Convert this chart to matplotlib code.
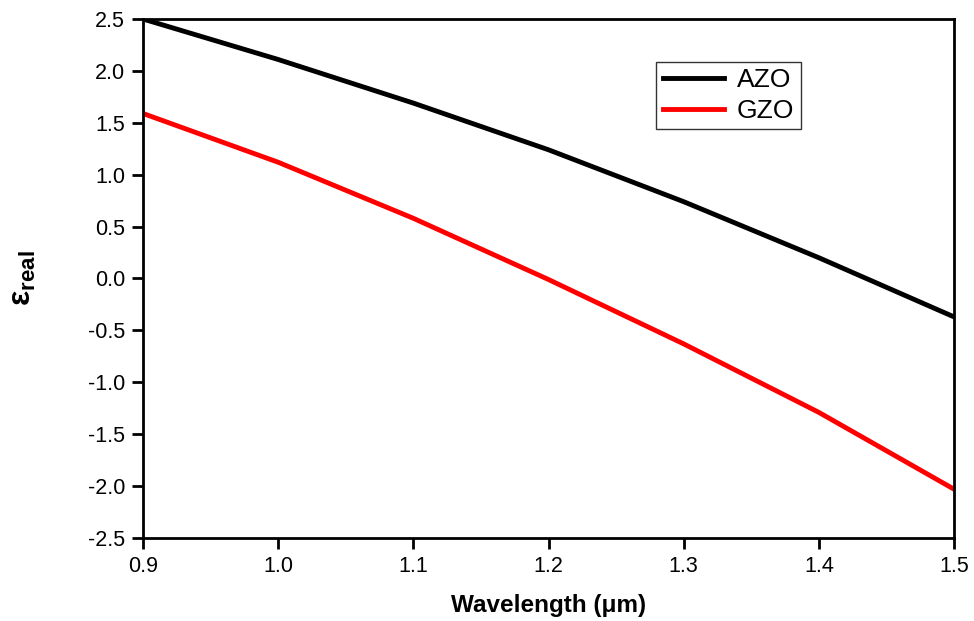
import matplotlib.pyplot as plt

plt.rcParams['font.family'] = ['Liberation Sans', 'DejaVu Sans']
plt.rcParams['mathtext.fontset'] = 'custom'
plt.rcParams['mathtext.rm'] = 'Liberation Sans'
plt.rcParams['mathtext.bf'] = 'Liberation Sans:bold'

# ── Data ──
wavelength = [0.9, 1.0, 1.1, 1.2, 1.3, 1.4, 1.5]
eps_azo = [2.50, 2.11, 1.69, 1.24, 0.74, 0.20, -0.37]
eps_gzo = [1.59, 1.12, 0.58, -0.01, -0.63, -1.29, -2.03]

fig = plt.figure(figsize=(9.74, 6.21), dpi=100)
ax = fig.add_axes([0.1468, 0.1337, 0.8327, 0.8357])

ax.plot(wavelength, eps_azo, color='black', lw=3.5, label='AZO')
ax.plot(wavelength, eps_gzo, color='red', lw=3.5, label='GZO')

ax.set_xlim(0.9, 1.5)
ax.set_ylim(-2.5, 2.5)
ax.set_xticks([0.9, 1.0, 1.1, 1.2, 1.3, 1.4, 1.5])
ax.set_yticks([-2.5, -2.0, -1.5, -1.0, -0.5, 0.0, 0.5, 1.0, 1.5, 2.0, 2.5])
ax.xaxis.set_major_formatter(plt.FormatStrFormatter('%.1f'))
ax.yaxis.set_major_formatter(plt.FormatStrFormatter('%.1f'))
ax.tick_params(direction='out', length=8, width=2, labelsize=15.5, pad=5)
for s in ax.spines.values():
    s.set_linewidth(2)

ax.set_xlabel('Wavelength (\u03bcm)', fontsize=17.5, fontweight='bold', labelpad=12)
ax.set_ylabel(r'$\mathbf{\varepsilon_{real}}$', fontsize=23, labelpad=36)

leg = ax.legend(loc='upper left', bbox_to_anchor=(0.633, 0.918), fontsize=19,
                frameon=True, fancybox=False, edgecolor='black',
                handlelength=2.3, handletextpad=0.5, borderpad=0.25,
                labelspacing=0.25, borderaxespad=0)
leg.get_frame().set_linewidth(1)

fig.savefig('out.png', dpi=100)
